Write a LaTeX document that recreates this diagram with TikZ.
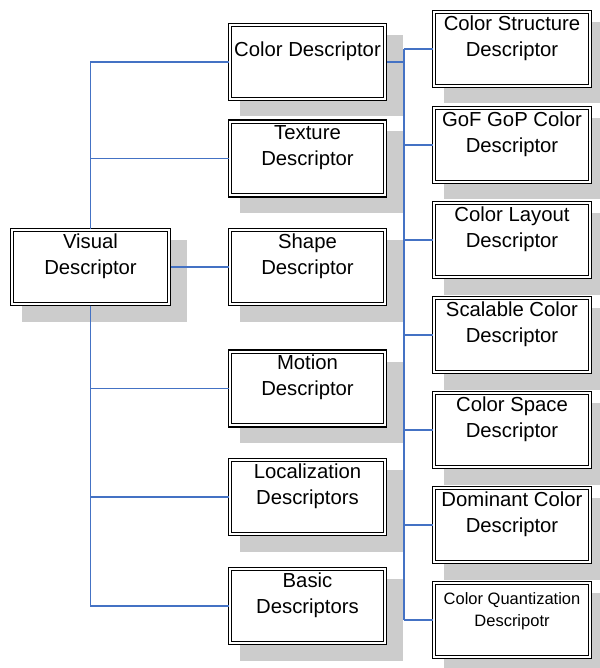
\documentclass[tikz,border=0pt]{standalone}
\usepackage{fontspec}
\setmainfont{Liberation Sans}
\usetikzlibrary{backgrounds}
\definecolor{linkblue}{RGB}{68,114,196}
\definecolor{shadowgray}{RGB}{204,204,204}
\newcommand{\boxtxt}[5]{\parbox[t][77pt][t]{#1}{\centering\fontsize{#2}{#3}\selectfont\rule{0pt}{#4}#5}}
\tikzset{
  box/.style={draw=black, line width=1.9pt, fill=white, inner sep=0pt, outer sep=0pt},
  innerline/.style={draw=black, line width=1.3pt},
  link/.style={draw=linkblue, line width=1.7pt},
  trunk/.style={draw=linkblue, line width=2.2pt}
}
\begin{document}
\begin{tikzpicture}[x=1pt,y=-1pt]
\useasboundingbox (0,0) rectangle (599,668);
\clip (0,0) rectangle (599,668);
% left and middle columns
\node[box] (vis) at (90.5,267) {\boxtxt{160pt}{20.3}{26}{19.8pt}{Visual\\Descriptor}};
\node[box] (col) at (307.5,62) {\boxtxt{158pt}{20.3}{26}{33.2pt}{Color Descriptor}};
\node[box] (tex) at (307.5,158.5) {\boxtxt{158pt}{20.3}{26}{19.8pt}{Texture\\Descriptor}};
\node[box] (sha) at (307.5,267) {\boxtxt{158pt}{20.3}{26}{19.8pt}{Shape\\Descriptor}};
\node[box] (mot) at (307.5,388.5) {\boxtxt{158pt}{20.3}{26}{19.8pt}{Motion\\Descriptor}};
\node[box] (loc) at (307.5,497) {\boxtxt{158pt}{20.3}{26}{19.8pt}{Localization\\Descriptors}};
\node[box] (bas) at (307.5,606) {\boxtxt{158pt}{20.3}{26}{19.8pt}{Basic\\Descriptors}};
% right column
\node[box] (cst) at (512,49) {\boxtxt{159pt}{20.3}{26}{19.8pt}{Color Structure\\Descriptor}};
\node[box] (gof) at (512,145) {\boxtxt{159pt}{20.3}{26}{19.8pt}{GoF GoP Color\\Descriptor}};
\node[box] (lay) at (512,240) {\boxtxt{159pt}{20.3}{26}{19.8pt}{Color Layout\\Descriptor}};
\node[box] (sca) at (512,335) {\boxtxt{159pt}{20.3}{26}{19.8pt}{Scalable Color\\Descriptor}};
\node[box] (spa) at (512,430) {\boxtxt{159pt}{20.3}{26}{19.8pt}{Color Space\\Descriptor}};
\node[box] (dom) at (512,525) {\boxtxt{159pt}{20.3}{26}{19.8pt}{Dominant Color\\Descriptor}};
\node[box] (qua) at (512,620) {\boxtxt{159pt}{16.5}{22}{22.5pt}{Color Quantization\\Descripotr}};
% inner border lines and shadows
\foreach \n in {vis,col,tex,sha,mot,loc,bas,cst,gof,lay,sca,spa,dom,qua}
  \draw[innerline] ([shift={(3.2,3.2)}]\n.north west) rectangle ([shift={(-3.2,-3.2)}]\n.south east);
\begin{pgfonlayer}{background}
\foreach \n in {vis,col,tex,sha,mot,loc,bas,cst,gof,lay,sca,spa,dom,qua}
  \fill[shadowgray] ([shift={(11,11.5)}]\n.north west) rectangle ([shift={(16,16)}]\n.south east);
\end{pgfonlayer}
% left connectors
\draw[link] (vis.north) |- (col.west);
\draw[link] (vis.north) |- (tex.west);
\draw[link] (vis.east) -- (sha.west);
\draw[link] (vis.south) |- (mot.west);
\draw[link] (vis.south) |- (loc.west);
\draw[link] (vis.south) |- (bas.west);
% right connectors
\coordinate (rt) at (404,62);
\draw[trunk] (col.east) -- (rt);
\draw[trunk] (rt |- cst.west) -- (rt |- qua.west);
\foreach \n in {cst,gof,lay,sca,spa,dom,qua}
  \draw[link] (rt |- \n.west) -- (\n.west);
\end{tikzpicture}
\end{document}
